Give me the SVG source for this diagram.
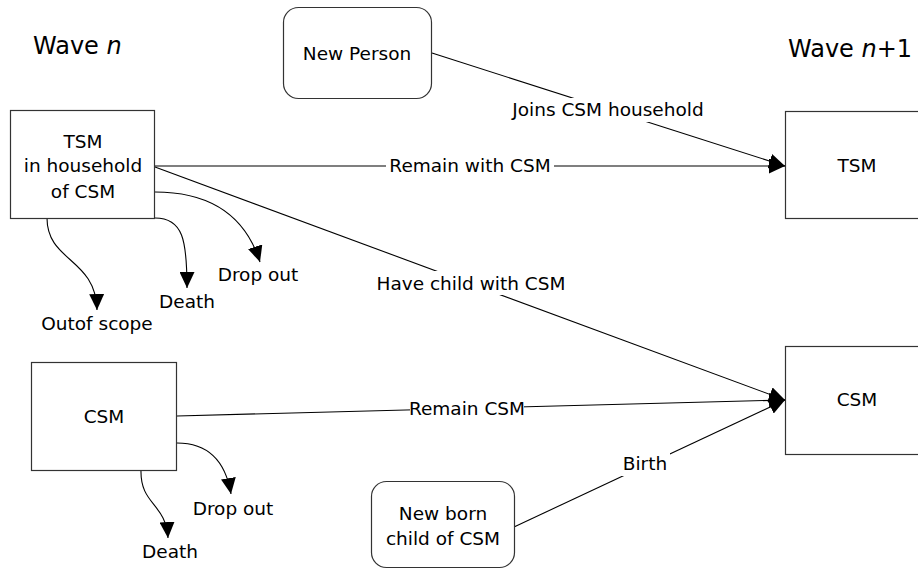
<svg xmlns="http://www.w3.org/2000/svg" width="918" height="571" viewBox="0 0 918 571">
<defs>
<style>
text{font-family:"DejaVu Sans","Liberation Sans",sans-serif;font-size:18.5px;fill:#000;text-anchor:middle}
.wave{font-size:24px;text-anchor:start}
.box{fill:#fff;stroke:#333;stroke-width:1.2}
.edge{fill:none;stroke:#000;stroke-width:1.1}
.bg{fill:#fff}
</style>
<marker id="arr" viewBox="0 0 16 15" refX="16" refY="7.5" markerWidth="16" markerHeight="15" markerUnits="userSpaceOnUse" orient="auto">
<path d="M0,0 L16,7.5 L0,15 z" fill="#000"/>
</marker>
</defs>
<rect width="918" height="571" fill="#fff"/>

<text class="wave" x="33" y="54">Wave <tspan font-style="italic">n</tspan></text>
<text class="wave" x="788" y="57">Wave <tspan font-style="italic">n</tspan>+1</text>

<g id="connectors">
<line class="edge" x1="155" y1="166" x2="785" y2="166" marker-end="url(#arr)"/>
<line class="edge" x1="432" y1="53" x2="785" y2="166" marker-end="url(#arr)"/>
<line class="edge" x1="155" y1="167" x2="785" y2="400" marker-end="url(#arr)"/>
<line class="edge" x1="177" y1="416" x2="785" y2="400" marker-end="url(#arr)"/>
<line class="edge" x1="514" y1="527" x2="785" y2="400" marker-end="url(#arr)"/>
<path class="edge" d="M47,218 C47,262 96,258 97,310" marker-end="url(#arr)"/>
<path class="edge" d="M155,218 C183,218 187,240 187,288" marker-end="url(#arr)"/>
<path class="edge" d="M155,192 C210,192 245,215 260,262" marker-end="url(#arr)"/>
<path class="edge" d="M177,443 C205,443 225,458 231,494" marker-end="url(#arr)"/>
<path class="edge" d="M141,470 C140,505 166,503 168,538" marker-end="url(#arr)"/>
<rect class="bg" x="386" y="155" width="168" height="22"/>
<text x="470" y="172">Remain with CSM</text>
<rect class="bg" x="504" y="98" width="208" height="24"/>
<text x="608" y="116">Joins CSM household</text>
<rect class="bg" x="372" y="271" width="198" height="24"/>
<text x="471" y="290">Have child with CSM</text>
<rect class="bg" x="410" y="396" width="114" height="26"/>
<text x="467" y="415">Remain CSM</text>
<rect class="bg" x="620" y="452" width="50" height="24"/>
<text x="645" y="470">Birth</text>
<text x="97" y="330">Outof scope</text>
<text x="187" y="308">Death</text>
<text x="258" y="281">Drop out</text>
<text x="233" y="515">Drop out</text>
<text x="170" y="558">Death</text>
</g>

<g id="tsm-n">
<rect class="box" x="10.5" y="110.5" width="144" height="108"/>
<text x="83" y="148">TSM</text>
<text x="83" y="172">in household</text>
<text x="83" y="198">of CSM</text>
</g>
<g id="new-person">
<rect class="box" x="283.5" y="7.5" width="148" height="91" rx="15"/>
<text x="357" y="60">New Person</text>
</g>
<g id="tsm-n1">
<rect class="box" x="785.5" y="111.5" width="144" height="107"/>
<text x="857" y="172">TSM</text>
</g>
<g id="csm-n">
<rect class="box" x="31.5" y="362.5" width="145" height="108"/>
<text x="104" y="423">CSM</text>
</g>
<g id="csm-n1">
<rect class="box" x="785.5" y="346.5" width="144" height="108"/>
<text x="857" y="406">CSM</text>
</g>
<g id="new-born">
<rect class="box" x="371.5" y="481.5" width="143" height="86" rx="15"/>
<text x="443" y="520">New born</text>
<text x="443" y="545">child of CSM</text>
</g>
</svg>
